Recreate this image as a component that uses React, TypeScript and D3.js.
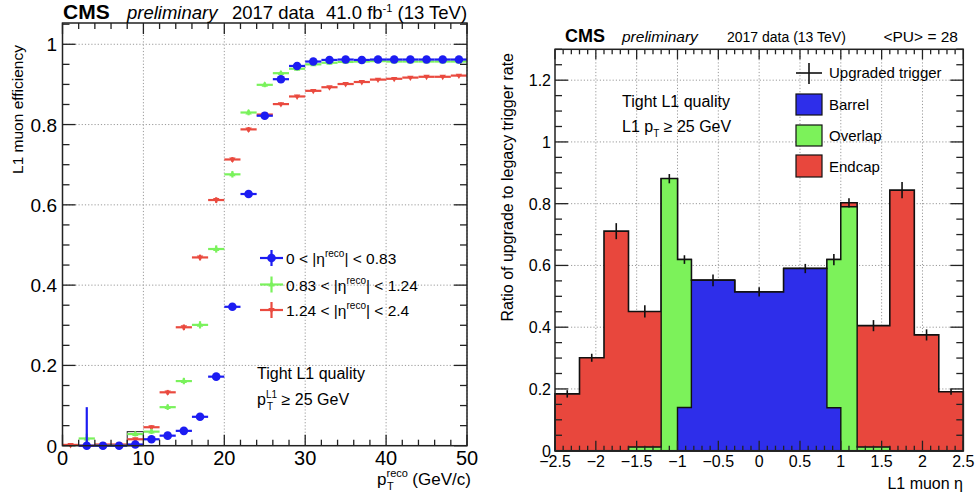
import React from 'react';
import * as d3 from 'd3';

const FONT = "'Liberation Sans', Arial, Helvetica, sans-serif";

// ---------- Left panel data: L1 muon efficiency vs pT(reco) ----------
const ptBinCenters = [1, 3, 5, 7, 9, 11, 13, 15, 17, 19, 21, 23, 25, 27, 29, 31, 33, 35, 37, 39, 41, 43, 45, 47, 49];
const ptBinHalfWidth = 1;
const effBarrel = [null, 0, 0, 0, 0.003, 0.016, 0.025, 0.037, 0.072, 0.172, 0.346, 0.627, 0.822, 0.913, 0.946, 0.957, 0.961, 0.962, 0.961, 0.962, 0.962, 0.962, 0.962, 0.962, 0.962];
const effOverlap = [null, 0.018, 0, 0, 0.029, 0.035, 0.096, 0.161, 0.301, 0.49, 0.676, 0.83, 0.899, 0.928, 0.939, 0.95, 0.954, 0.956, 0.957, 0.958, 0.957, 0.957, 0.957, 0.957, 0.957];
const effEndcap = [0.002, 0, 0.003, 0.003, 0.016, 0.046, 0.133, 0.295, 0.469, 0.612, 0.713, 0.788, 0.825, 0.851, 0.87, 0.884, 0.893, 0.901, 0.906, 0.912, 0.914, 0.917, 0.919, 0.919, 0.922];
const errBarrel = [0, 0.096, 0.003, 0.003, 0.003, 0.004, 0.005, 0.006, 0.007, 0.008, 0.008, 0.007, 0.006, 0.004, 0.003, 0.002, 0.002, 0.002, 0.002, 0.002, 0.002, 0.002, 0.002, 0.002, 0.002];
const errOverlap = [0, 0.012, 0.004, 0.004, 0.006, 0.006, 0.007, 0.008, 0.009, 0.009, 0.008, 0.007, 0.006, 0.005, 0.004, 0.003, 0.003, 0.003, 0.003, 0.003, 0.003, 0.003, 0.003, 0.003, 0.003];
const errEndcap = [0.003, 0.003, 0.003, 0.003, 0.004, 0.005, 0.006, 0.007, 0.007, 0.007, 0.006, 0.006, 0.005, 0.004, 0.004, 0.003, 0.003, 0.003, 0.003, 0.003, 0.003, 0.003, 0.003, 0.003, 0.003];
const leftXTicks = [0, 10, 20, 30, 40, 50];
const leftYTicks = [0, 0.2, 0.4, 0.6, 0.8, 1];
const leftYTickLabels = ['0', '0.2', '0.4', '0.6', '0.8', '1'];

// ---------- Right panel data: ratio of upgrade to legacy trigger rate vs eta ----------
const etaEdges = [-2.5, -2.2, -1.9, -1.6, -1.2, -1.0, -0.83, -0.3, 0.3, 0.83, 1.0, 1.2, 1.6, 1.9, 2.2, 2.5];
const rateBarrel = [0, 0, 0, 0, 0, 0.14, 0.552, 0.514, 0.59, 0.139, 0, 0, 0, 0, 0];
const rateOverlap = [0, 0, 0, 0.012, 0.881, 0.479, 0, 0, 0, 0.48, 0.79, 0.012, 0, 0, 0];
const rateEndcap = [0.184, 0.301, 0.711, 0.439, 0, 0, 0, 0, 0, 0, 0.013, 0.393, 0.844, 0.375, 0.191];
const rateErr = [0.012, 0.013, 0.026, 0.02, 0.015, 0.014, 0.019, 0.015, 0.015, 0.018, 0.015, 0.018, 0.026, 0.018, 0.01];
const rightXTicks = [-2.5, -2, -1.5, -1, -0.5, 0, 0.5, 1, 1.5, 2, 2.5];
const rightXTickLabels = ['\u22122.5', '\u22122', '\u22121.5', '\u22121', '\u22120.5', '0', '0.5', '1', '1.5', '2', '2.5'];
const rightYTicks = [0, 0.2, 0.4, 0.6, 0.8, 1, 1.2];
const rightYTickLabels = ['0', '0.2', '0.4', '0.6', '0.8', '1', '1.2'];

const BLUE = '#1c1cf2';
const GREEN = '#7af25c';
const RED = '#ea4a3f';
const FILL_BLUE = '#2e2eea';
const FILL_GREEN = '#7cf25a';
const FILL_RED = '#e8473d';
const AXIS = '#222';
const GRID = '#9a9a9a';

function range(a: number, b: number, step: number) {
  const out: number[] = [];
  for (let v = a; v <= b + 1e-9; v += step) out.push(+v.toFixed(6));
  return out;
}

function Frame({ x, y, xMinor, yMinor, xMajor, yMajor, xTickLen, yTickLen }: any) {
  const [x0, x1] = x.range();
  const [y0, y1] = y.range();
  const els: any[] = [];
  xMinor.forEach((v: number, i: number) => {
    const px = x(v);
    const isMaj = xMajor.some((m: number) => Math.abs(m - v) < 1e-6);
    const L = isMaj ? xTickLen[0] : xTickLen[1];
    els.push(<line key={'xb' + i} x1={px} x2={px} y1={y0} y2={y0 - L} stroke={AXIS} strokeWidth={1.3} />);
    els.push(<line key={'xt' + i} x1={px} x2={px} y1={y1} y2={y1 + L} stroke={AXIS} strokeWidth={1.3} />);
  });
  yMinor.forEach((v: number, i: number) => {
    const py = y(v);
    const isMaj = yMajor.some((m: number) => Math.abs(m - v) < 1e-6);
    const L = isMaj ? yTickLen[0] : yTickLen[1];
    els.push(<line key={'yl' + i} x1={x0} x2={x0 + L} y1={py} y2={py} stroke={AXIS} strokeWidth={1.3} />);
    els.push(<line key={'yr' + i} x1={x1} x2={x1 - L} y1={py} y2={py} stroke={AXIS} strokeWidth={1.3} />);
  });
  return (
    <g>
      {els}
      <rect x={x0} y={y1} width={x1 - x0} height={y0 - y1} fill="none" stroke={AXIS} strokeWidth={1.5} />
    </g>
  );
}

function Grid({ x, y, xs, ys }: any) {
  const [x0, x1] = x.range();
  const [y0, y1] = y.range();
  return (
    <g stroke={GRID} strokeWidth={1} strokeDasharray="1.2,2">
      {xs.map((v: number, i: number) => (
        <line key={'gx' + i} x1={x(v)} x2={x(v)} y1={y0} y2={y1} />
      ))}
      {ys.map((v: number, i: number) => (
        <line key={'gy' + i} x1={x0} x2={x1} y1={y(v)} y2={y(v)} />
      ))}
    </g>
  );
}

function Marker({ type, cx, cy, color }: any) {
  if (type === 'circle') return <circle cx={cx} cy={cy} r={4.3} fill={color} />;
  const s = 3.2;
  if (type === 'up')
    return <path d={`M${cx - s},${cy + s * 0.6} L${cx + s},${cy + s * 0.6} L${cx},${cy - s * 1.1} Z`} fill={color} />;
  return <path d={`M${cx - s},${cy - s * 0.6} L${cx + s},${cy - s * 0.6} L${cx},${cy + s * 1.1} Z`} fill={color} />;
}

function EffSeries({ x, y, values, errs, color, marker }: any) {
  return (
    <g>
      {values.map((v: number | null, i: number) => {
        if (v === null) return null;
        const c = ptBinCenters[i];
        const e = errs[i];
        const lo = Math.max(0, v - e);
        const hi = Math.min(1, v + e);
        return (
          <g key={i}>
            <line x1={x(c - ptBinHalfWidth)} x2={x(c + ptBinHalfWidth)} y1={y(v)} y2={y(v)} stroke={color} strokeWidth={2.2} />
            <line x1={x(c)} x2={x(c)} y1={y(lo)} y2={y(hi)} stroke={color} strokeWidth={2.2} />
            <Marker type={marker} cx={x(c)} cy={y(v)} color={color} />
          </g>
        );
      })}
    </g>
  );
}

function LeftPanel() {
  const x = d3.scaleLinear().domain([0, 50]).range([62.5, 467]);
  const y = d3.scaleLinear().domain([0, 1.053]).range([445.7, 23]);
  const legend = [
    { color: BLUE, marker: 'circle', lo: '0', hi: '0.83', cy: 258 },
    { color: GREEN, marker: 'up', lo: '0.83', hi: '1.24', cy: 284.5 },
    { color: RED, marker: 'down', lo: '1.24', hi: '2.4', cy: 310 },
  ];
  return (
    <g fontFamily={FONT}>
      <Grid x={x} y={y} xs={[10, 20, 30, 40, 50]} ys={[0.2, 0.4, 0.6, 0.8, 1]} />
      <rect x={x(8)} y={y(0.035)} width={x(10) - x(8)} height={y(0) - y(0.035)} fill="none" stroke="#222" strokeWidth={1} />
      <EffSeries x={x} y={y} values={effEndcap} errs={errEndcap} color={RED} marker="down" />
      <EffSeries x={x} y={y} values={effOverlap} errs={errOverlap} color={GREEN} marker="up" />
      <EffSeries x={x} y={y} values={effBarrel} errs={errBarrel} color={BLUE} marker="circle" />
      <Frame x={x} y={y} xMinor={range(0, 50, 2)} xMajor={leftXTicks} yMinor={range(0, 1.05, 0.05)} yMajor={leftYTicks} xTickLen={[11, 6]} yTickLen={[13, 7]} />
      {leftXTicks.map((v, i) => (
        <text key={'xl' + i} x={x(v)} y={465} fontSize={20} textAnchor="middle">{v}</text>
      ))}
      {leftYTicks.map((v, i) => (
        <text key={'yl' + i} x={57} y={y(v) + 7} fontSize={19} textAnchor="end">{leftYTickLabels[i]}</text>
      ))}
      <text x={63} y={19} fontSize={21} fontWeight="bold">CMS</text>
      <text x={127} y={19} fontSize={18.5} fontStyle="italic">preliminary</text>
      <text x={232} y={19} fontSize={18.5}>2017 data</text>
      <text x={326} y={19} fontSize={18.5}>
        41.0 fb<tspan dy={-7} fontSize={11}>-1</tspan><tspan dy={7}> (13 TeV)</tspan>
      </text>
      <text transform="translate(23,45) rotate(-90)" fontSize={15.5} textAnchor="end">L1 muon efficiency</text>
      <text x={377} y={485} fontSize={17}>
        p<tspan dy={-8} fontSize={11}>reco</tspan><tspan dx={-21} dy={13} fontSize={11}>T</tspan><tspan dx={14} dy={-5} fontSize={17}> (GeV/c)</tspan>
      </text>
      {legend.map((l, i) => (
        <g key={'lg' + i}>
          <line x1={260} x2={283} y1={l.cy} y2={l.cy} stroke={l.color} strokeWidth={2.2} />
          <line x1={271.5} x2={271.5} y1={l.cy - 8} y2={l.cy + 8} stroke={l.color} strokeWidth={2.2} />
          <Marker type={l.marker} cx={271.5} cy={l.cy} color={l.color} />
          <text x={286} y={l.cy + 6} fontSize={15.5}>
            {l.lo} &lt; |η<tspan dy={-7} fontSize={10}>reco</tspan><tspan dy={7}>| &lt; {l.hi}</tspan>
          </text>
        </g>
      ))}
      <text x={257} y={379} fontSize={16}>Tight L1 quality</text>
      <text x={257} y={405} fontSize={16}>
        p<tspan dy={-7} fontSize={10}>L1</tspan><tspan dx={-10} dy={12} fontSize={10}>T</tspan><tspan dx={4} dy={-5} fontSize={16}> ≥ 25 GeV</tspan>
      </text>
    </g>
  );
}

function stackPath(x: any, y: any, vals: number[]) {
  let d = `M${x(etaEdges[0])},${y(0)}`;
  vals.forEach((v, i) => {
    d += ` L${x(etaEdges[i])},${y(v)} L${x(etaEdges[i + 1])},${y(v)}`;
  });
  d += ` L${x(etaEdges[etaEdges.length - 1])},${y(0)} Z`;
  return d;
}

function RightPanel() {
  const x = d3.scaleLinear().domain([-2.5, 2.5]).range([555, 963.3]);
  const y = d3.scaleLinear().domain([0, 1.3]).range([450.7, 49.3]);
  const cumBarrel = rateBarrel.slice();
  const cumOverlap = rateBarrel.map((v, i) => v + rateOverlap[i]);
  const cumTotal = cumOverlap.map((v, i) => v + rateEndcap[i]);
  const legendBoxes = [
    { label: 'Barrel', fill: FILL_BLUE, y0: 94, y1: 115 },
    { label: 'Overlap', fill: FILL_GREEN, y0: 125, y1: 146 },
    { label: 'Endcap', fill: FILL_RED, y0: 155, y1: 177 },
  ];
  return (
    <g fontFamily={FONT}>
      <Grid x={x} y={y} xs={[-2, -1.5, -1, -0.5, 0, 0.5, 1, 1.5, 2]} ys={[0.2, 0.4, 0.6, 0.8, 1, 1.2]} />
      <path d={stackPath(x, y, cumTotal)} fill={FILL_RED} stroke="#111" strokeWidth={1.6} />
      <path d={stackPath(x, y, cumOverlap)} fill={FILL_GREEN} stroke="#111" strokeWidth={1.4} />
      <path d={stackPath(x, y, cumBarrel)} fill={FILL_BLUE} stroke="#111" strokeWidth={1.4} />
      {cumTotal.map((v, i) => {
        const c = (etaEdges[i] + etaEdges[i + 1]) / 2;
        return <line key={'e' + i} x1={x(c)} x2={x(c)} y1={y(v - rateErr[i])} y2={y(v + rateErr[i])} stroke="#111" strokeWidth={1.6} />;
      })}
      <Frame x={x} y={y} xMinor={range(-2.5, 2.5, 0.1)} xMajor={rightXTicks} yMinor={range(0, 1.3, 0.05)} yMajor={rightYTicks} xTickLen={[10, 5]} yTickLen={[13, 7]} />
      {rightXTicks.map((v, i) => (
        <text key={'xl' + i} x={x(v)} y={467} fontSize={16} textAnchor="middle">{rightXTickLabels[i]}</text>
      ))}
      {rightYTicks.map((v, i) => (
        <text key={'yl' + i} x={551} y={y(v) + 6} fontSize={16} textAnchor="end">{rightYTickLabels[i]}</text>
      ))}
      <text x={565} y={42} fontSize={18} fontWeight="bold">CMS</text>
      <text x={622} y={42} fontSize={15.5} fontStyle="italic">preliminary</text>
      <text x={727} y={42} fontSize={14}>2017 data (13 TeV)</text>
      <text x={958} y={42} fontSize={15.5} textAnchor="end">&lt;PU&gt; = 28</text>
      <text transform="translate(513,53) rotate(-90)" fontSize={16} textAnchor="end">Ratio of upgrade to legacy trigger rate</text>
      <text x={963} y={489} fontSize={16} textAnchor="end">L1 muon η</text>
      <text x={622} y={107} fontSize={16}>Tight L1 quality</text>
      <text x={622} y={132} fontSize={16}>
        L1 p<tspan dy={5} fontSize={10}>T</tspan><tspan dy={-5} fontSize={16}> ≥ 25 GeV</tspan>
      </text>
      <line x1={796} x2={822} y1={73} y2={73} stroke="#111" strokeWidth={1.6} />
      <line x1={809} x2={809} y1={63} y2={84} stroke="#111" strokeWidth={1.6} />
      <text x={829} y={78} fontSize={15}>Upgraded trigger</text>
      {legendBoxes.map((b, i) => (
        <g key={'lb' + i}>
          <rect x={796} y={b.y0} width={26} height={b.y1 - b.y0} fill={b.fill} stroke="#111" strokeWidth={1.2} />
          <text x={829} y={(b.y0 + b.y1) / 2 + 5.5} fontSize={15}>{b.label}</text>
        </g>
      ))}
    </g>
  );
}

export default function App() {
  return (
    <svg width={975} height={497} viewBox="0 0 975 497" style={{ position: 'absolute', left: 0, top: 0, background: '#fff' }}>
      <rect x={0} y={0} width={975} height={497} fill="#fff" />
      <LeftPanel />
      <RightPanel />
    </svg>
  );
}
